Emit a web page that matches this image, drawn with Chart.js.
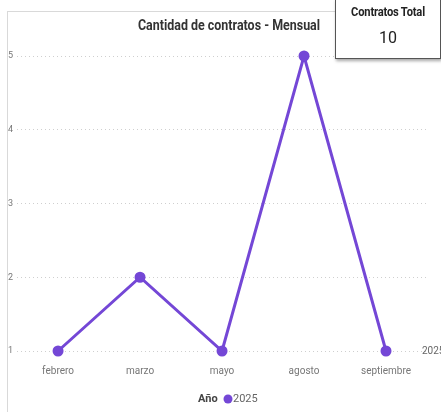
<!DOCTYPE html>
<html>
<head>
<meta charset="utf-8">
<script src="https://cdn.jsdelivr.net/npm/chart.js@4.4.1/dist/chart.umd.min.js"></script>
<style>
    body { margin: 0; background: #fff; }
    #wrap { position: relative; width: 441px; height: 412px; overflow: hidden; }
    #frame {
        position: absolute; left: 7px; top: 11px; width: 460px; height: 420px;
        border-left: 1px solid #d9d9d9; border-top: 1px solid #d9d9d9;
    }
    #chart { position: absolute; left: 0; top: 0; }
    #card {
        position: absolute; left: 335px; top: -1px; width: 104px; height: 58px;
        background: #fff; border: 1px solid #555;
        box-shadow: 1px 2px 3px rgba(0,0,0,0.35);
        font-family: Roboto, sans-serif; text-align: center; color: #222;
    }
    #card .t { font-size: 12px; font-weight: bold; margin-top: 5px; transform: scaleX(0.93); letter-spacing: -0.2px; }
    #card .v { font-size: 16px; margin-top: 9px; }
</style>
</head>
<body>
<div id="wrap">
    <div id="frame"></div>
    <canvas id="chart" width="441" height="412"></canvas>
    <div id="card"><div class="t">Contratos Total</div><div class="v">10</div></div>
</div>
<script>
    // Data
    const months = ['febrero', 'marzo', 'mayo', 'agosto', 'septiembre'];
    const contratos2025 = [1, 2, 1, 5, 1];
    const yTicks = [1, 2, 3, 4, 5];
    const seriesName = '2025';
    const legendTitle = 'Año';
    const chartTitle = 'Cantidad de contratos - Mensual';
    const lineColor = '#7447d6';
    const fontFamily = 'Roboto, sans-serif';

    // Title (condensed), end label and bottom legend
    const extras = {
        id: 'extras',
        afterDraw(chart) {
            const c = chart.ctx;
            c.save();
            c.translate(229, 26);
            c.scale(0.83, 1);
            c.font = 'bold 15px ' + fontFamily;
            c.fillStyle = '#333';
            c.textAlign = 'center';
            c.textBaseline = 'middle';
            c.fillText(chartTitle, 0, 0);
            c.restore();

            const meta = chart.getDatasetMeta(0);
            const last = meta.data[meta.data.length - 1];
            c.save();
            c.font = '10px ' + fontFamily;
            c.fillStyle = '#666';
            c.textBaseline = 'middle';
            c.textAlign = 'left';
            c.fillText(seriesName, 422, last.y);

            // legend
            const y = 399;
            c.font = 'bold 11px ' + fontFamily;
            c.fillStyle = '#444';
            c.fillText(legendTitle, 198, y);
            c.beginPath();
            c.fillStyle = lineColor;
            c.arc(228, y, 4.5, 0, Math.PI * 2);
            c.fill();
            c.font = '11px ' + fontFamily;
            c.fillStyle = '#666';
            c.fillText(seriesName, 233, y);
            c.restore();
        }
    };

    new Chart(document.getElementById('chart'), {
        type: 'line',
        data: {
            labels: months,
            datasets: [{
                label: seriesName,
                data: contratos2025,
                borderColor: lineColor,
                backgroundColor: lineColor,
                borderWidth: 3,
                pointRadius: 4,
                pointBackgroundColor: lineColor,
                tension: 0,
                clip: false
            }]
        },
        options: {
            responsive: false,
            animation: false,
            layout: { padding: { left: 4, right: 14, top: 56, bottom: 29 } },
            plugins: {
                legend: { display: false },
                tooltip: { enabled: false },
                title: { display: false }
            },
            scales: {
                x: {
                    offset: true,
                    grid: { display: false },
                    border: { display: false },
                    ticks: { color: '#777', font: { family: fontFamily, size: 10 }, padding: 6, maxRotation: 0 }
                },
                y: {
                    min: 1,
                    max: 5,
                    afterBuildTicks(axis) { axis.ticks = yTicks.map(v => ({ value: v })); },
                    grid: { color: '#cfcfcf', lineWidth: 1, drawTicks: false },
                    border: { display: false, dash: [1, 3] },
                    ticks: { color: '#777', font: { family: fontFamily, size: 9 }, padding: 4 }
                }
            }
        },
        plugins: [extras]
    });
</script>
</body>
</html>
